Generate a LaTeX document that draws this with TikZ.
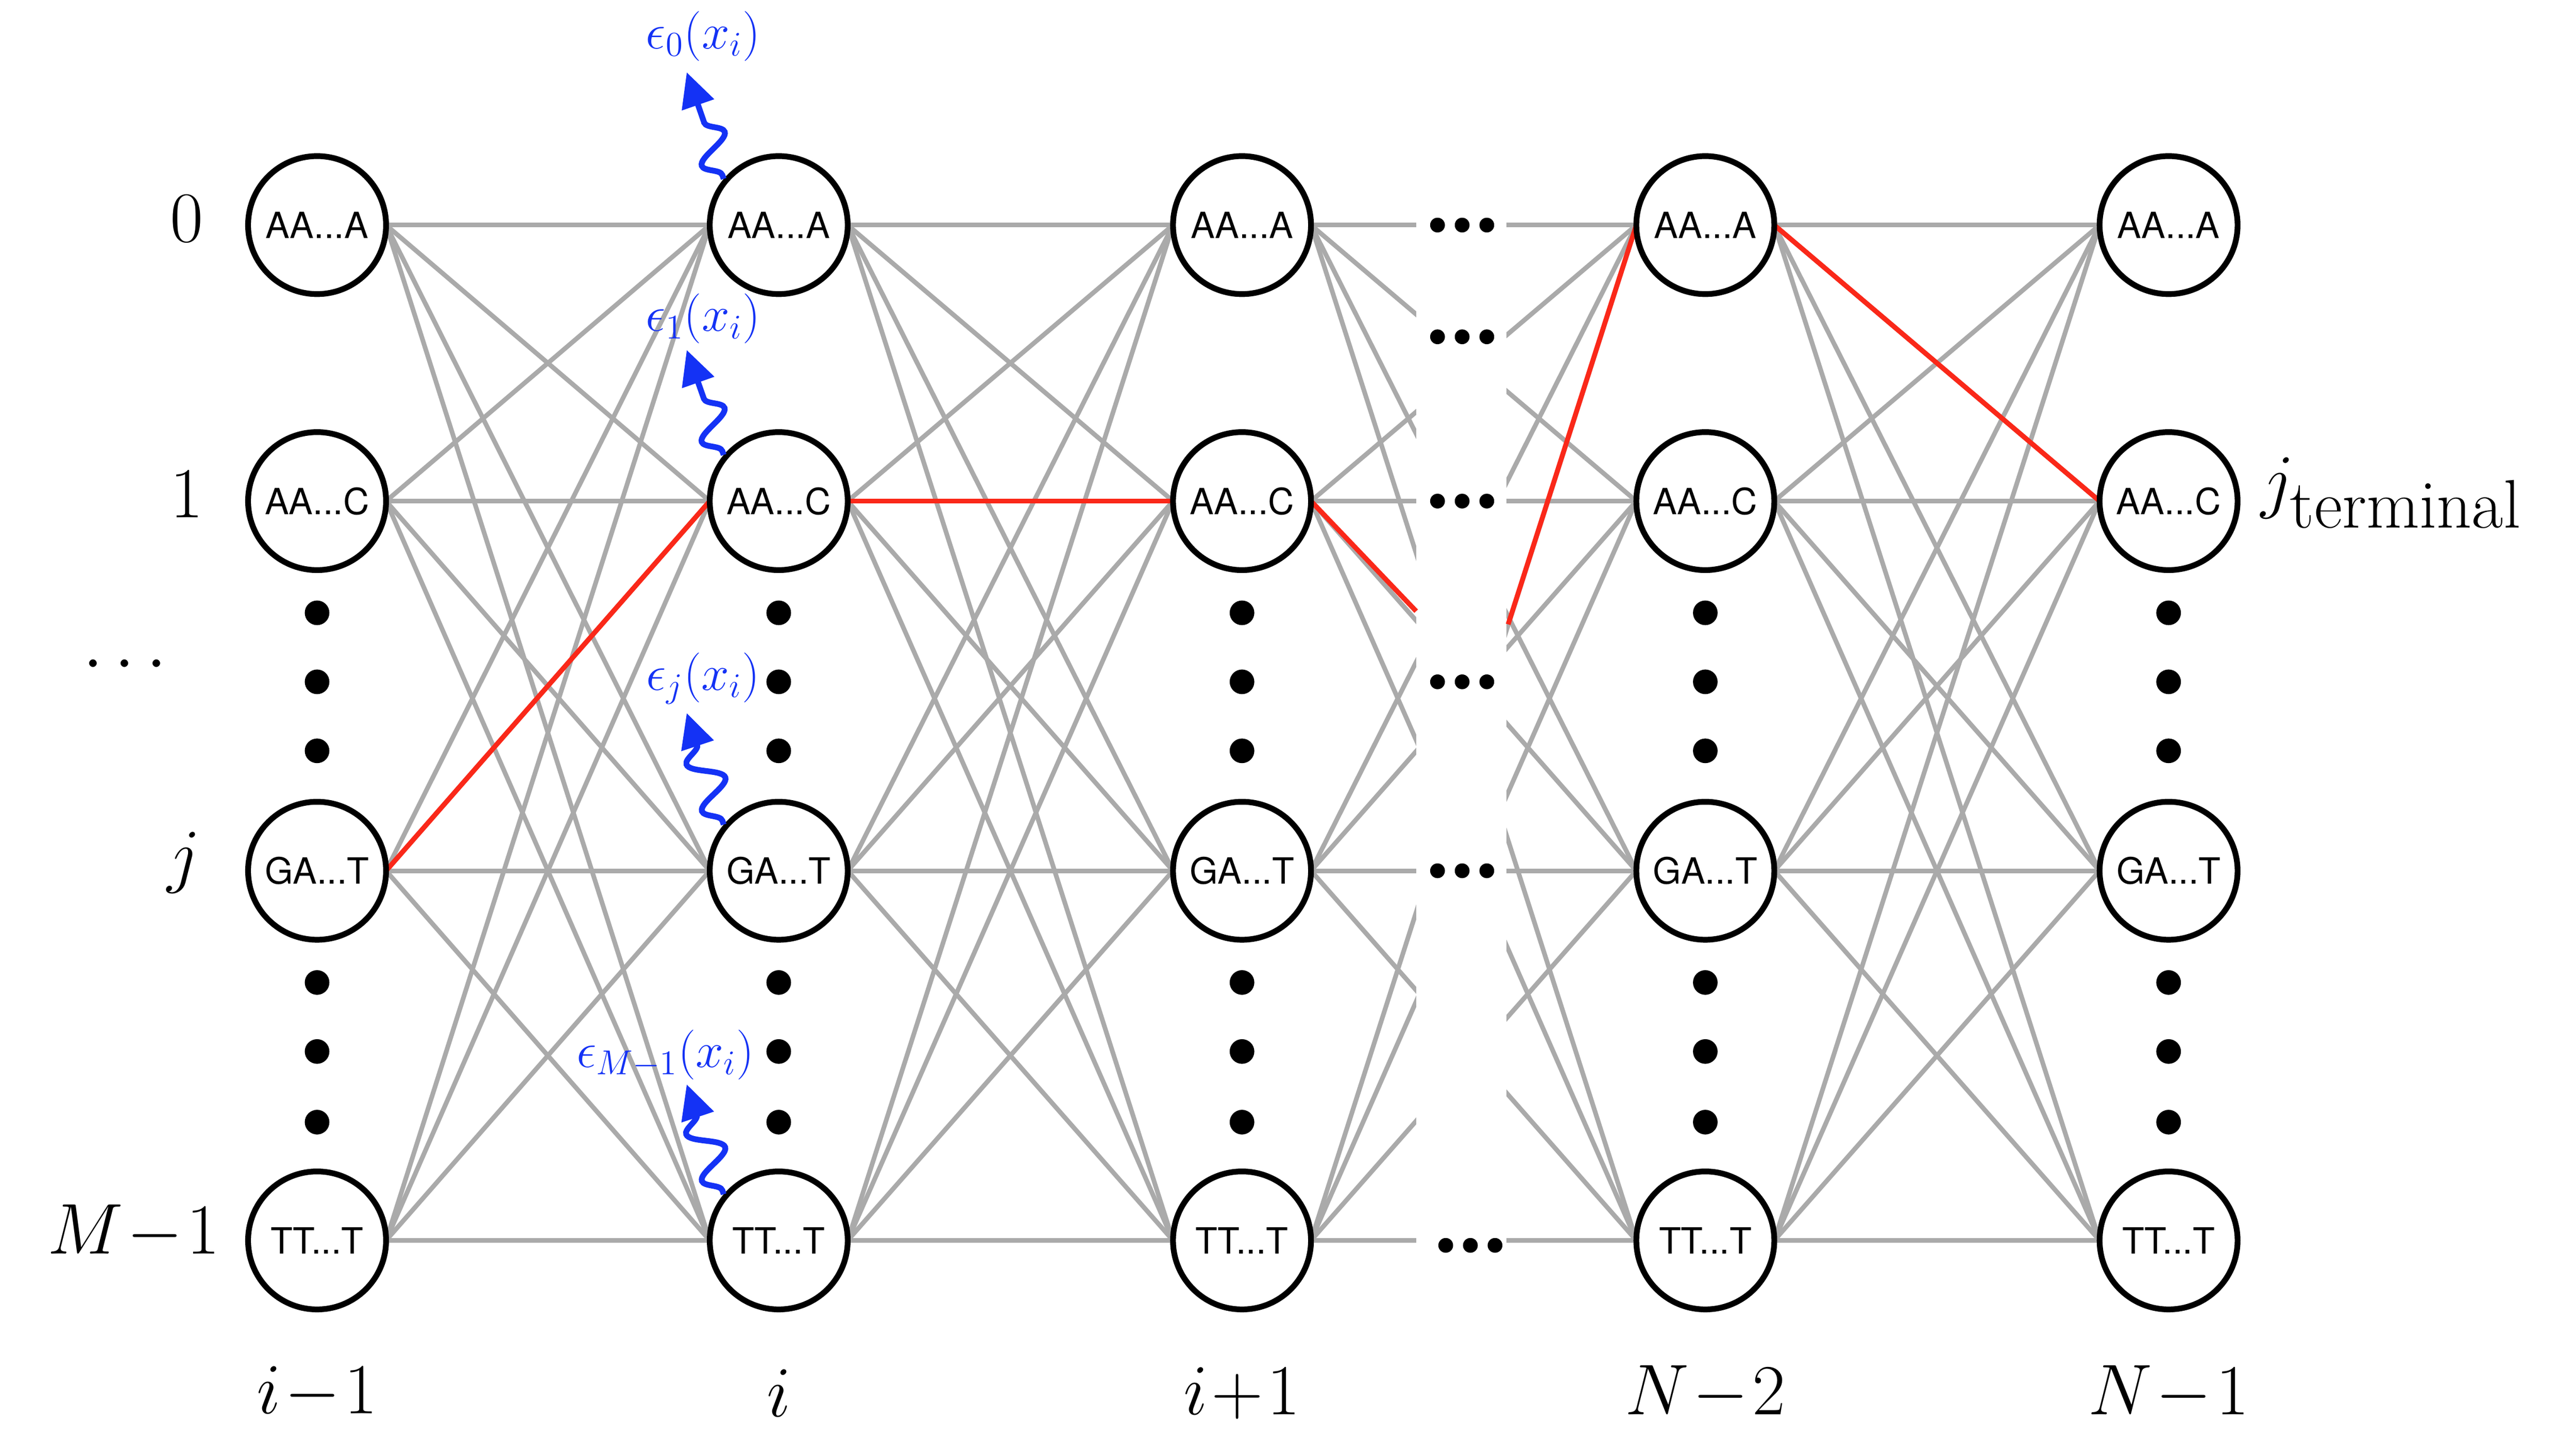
\documentclass[tikz,border=0pt]{standalone}
\usepackage{fontspec}
\newfontfamily\hv{TeX Gyre Heros}
\usepackage{amsmath}
\usetikzlibrary{decorations.pathmorphing,arrows.meta}
\definecolor{eblue}{RGB}{20,50,245}
\definecolor{egray}{RGB}{170,170,170}
\definecolor{ered}{RGB}{250,40,25}
\newcommand\mydd{...}
\begin{document}
\begin{tikzpicture}[x=0.02cm,y=-0.02cm,
  st/.style={circle,draw=black,line width=2pt,fill=white,minimum size=1.68cm,inner sep=0pt,font=\hv\fontsize{12.5}{13}\selectfont},
  ed/.style={draw=egray,line width=1.6pt},
  rd/.style={draw=ered,line width=1.7pt},
  dt/.style={circle,fill=black,minimum size=0.3cm,inner sep=0pt},
  gd/.style={circle,fill=black,minimum size=0.18cm,inner sep=0pt},
  big/.style={font=\fontsize{34}{36}\selectfont},
  bl/.style={text=eblue,font=\fontsize{18}{20}\selectfont},
  wv/.style={draw=eblue,line width=2pt,-{Triangle[length=0.42cm,width=0.4cm]},
    decorate,decoration={snake,amplitude=0.2cm,segment length=0.6cm,pre length=0.05cm,post length=0.35cm}}]
\useasboundingbox (0,0) rectangle (1568,875);
\foreach \c/\x in {1/193,2/474,3/756,4/1038,5/1320}{
  \foreach \r/\y in {0/137,1/305,2/530,3/755}{
    \coordinate (p-\c-\r) at (\x,\y);
  }
}
% edges
\foreach \c/\d in {1/2,2/3,3/4,4/5}{
  \foreach \a in {0,1,2,3}{\foreach \b in {0,1,2,3}{
    \draw[ed] ([xshift=0.84cm]p-\c-\a) -- ([xshift=-0.84cm]p-\d-\b);
  }}
}
% red path
\coordinate (gl) at (862,372);
\coordinate (gr) at (918,380);
\draw[rd] ([xshift=0.84cm]p-1-2) -- ([xshift=-0.84cm]p-2-1);
\draw[rd] ([xshift=0.84cm]p-2-1) -- ([xshift=-0.84cm]p-3-1);
\draw[rd] ([xshift=0.84cm]p-4-0) -- ([xshift=-0.84cm]p-5-1);
% gap
\fill[white] (862,115) rectangle (917,775);
\draw[rd] ([xshift=0.84cm]p-3-1) -- (gl);
\draw[rd] (gr) -- ([xshift=-0.84cm]p-4-0);
\foreach \y in {137,205,305,415,530}{
  \node[gd] (g1-\y) at (875,\y) {};
  \node[gd] (g2-\y) at (890,\y) {};
  \node[gd] (g3-\y) at (905,\y) {};
}
\node[gd] (g1-755) at (880,758) {};
\node[gd] (g2-755) at (895,758) {};
\node[gd] (g3-755) at (910,758) {};
% nodes
\foreach \c/\x in {1/193,2/474,3/756,4/1038,5/1320}{
  \foreach \r/\y/\t in {0/137/AA\mydd A,1/305/AA\mydd C,2/530/GA\mydd T,3/755/TT\mydd T}{
    \node[st] (n-\c-\r) at (\x,\y) {\t};
  }
  \foreach \y in {373,415,457,598,640,683}{
    \node[dt] (d-\c-\y) at (\x,\y) {};
  }
}
% row labels
\node[big,anchor=east] (r0) at (130,133) {$0$};
\node[big,anchor=east] (r1) at (130,301) {$1$};
\node[big,anchor=east] (rd) at (115,405) {$\cdots$};
\node[big,anchor=east] (rj) at (128,525) {$j$};
\node[big,anchor=east] (rm) at (140,750) {$M\!-\!1$};
\node[big,anchor=west] (jt) at (1370,300) {$j_{\text{terminal}}$};
% column labels
\node[big] (c1) at (193,848) {$i\!-\!1$};
\node[big] (c2) at (474,848) {$i$};
\node[big] (c3) at (756,848) {$i\!+\!1$};
\node[big] (c4) at (1038,848) {$N\!-\!2$};
\node[big] (c5) at (1320,848) {$N\!-\!1$};
% emissions
\node[bl] (e0) at (428,22) {$\epsilon_0(x_i)$};
\node[bl] (e1) at (428,194) {$\epsilon_1(x_i)$};
\node[bl] (ej) at (428,413) {$\epsilon_j(x_i)$};
\node[bl] (em) at (405,642) {$\epsilon_{M-1}(x_i)$};
\coordinate (a0) at (418,44);
\coordinate (a1) at (418,213);
\coordinate (aj) at (418,434);
\coordinate (am) at (418,660);
\draw[wv] (n-2-0.140) -- (a0);
\draw[wv] (n-2-1.140) -- (a1);
\draw[wv] (n-2-2.140) -- (aj);
\draw[wv] (n-2-3.140) -- (am);
\end{tikzpicture}
\end{document}
